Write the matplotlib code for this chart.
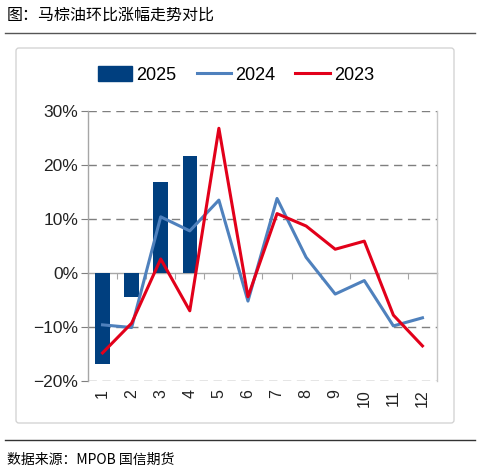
import matplotlib
matplotlib.use("Agg")
import matplotlib.pyplot as plt
from matplotlib.patches import FancyBboxPatch
from matplotlib.lines import Line2D
from matplotlib.patches import Patch
import numpy as np

months = ["1", "2", "3", "4", "5", "6", "7", "8", "9", "10", "11", "12"]
y2025 = [-16.9, -4.4, 16.8, 21.7]
y2024 = [-9.6, -10.1, 10.4, 7.8, 13.5, -5.2, 13.8, 2.9, -3.9, -1.4, -9.8, -8.3]
y2023 = [-14.8, -9.3, 2.6, -7.0, 26.8, -4.4, 11.0, 8.7, 4.4, 5.9, -7.8, -13.5]
yticks = [-20, -10, 0, 10, 20, 30]

C_BAR = "#003F7F"
C_2024 = "#4F81BD"
C_2023 = "#E2001A"
GRID = "#7F7F7F"

plt.rcParams['font.family'] = ['Liberation Sans', 'Noto Sans CJK SC', 'DejaVu Sans']

fig = plt.figure(figsize=(4.81, 4.73), dpi=100)

# outer frame
frame = FancyBboxPatch((16/481, 1-423/473), (454-16)/481, (423-48)/473,
                       boxstyle="round,pad=0,rounding_size=0.006",
                       transform=fig.transFigure, facecolor="none",
                       edgecolor="#D0D0D0", linewidth=0.9, zorder=0.1)
fig.add_artist(frame)

# title & rules
fig.text(7/481, 1-15/473, "图：马棕油环比涨幅走势对比", fontsize=11.5,
         family=['Noto Sans CJK SC'], va="center", ha="left")
fig.add_artist(Line2D([5/481, 475/481], [1-33/473, 1-33/473],
                      transform=fig.transFigure, color="#555555", lw=1.0))
fig.add_artist(Line2D([5/481, 475/481], [1-440/473, 1-440/473],
                      transform=fig.transFigure, color="#333333", lw=1.0))
fig.text(7/481, 1-460/473, "数据来源：MPOB 国信期货", fontsize=10,
         family=['Noto Sans CJK SC'], va="center", ha="left")

ax = fig.add_axes([88/481, 1-381/473, (437-88)/481, (381-111)/473])
ax.set_zorder(5)
ax.patch.set_alpha(0)
x = np.arange(1, len(months)+1)

for v in yticks:
    if v != 0:
        ax.axhline(v, color=GRID, lw=1.0, ls=(0, (6, 4)), zorder=0.5)

ax.bar(x[:len(y2025)], y2025, width=0.5, color=C_BAR, zorder=2, label="2025")
ax.plot(x, y2024, color=C_2024, lw=2.2, zorder=3, label="2024")
ax.plot(x, y2023, color=C_2023, lw=2.2, zorder=4, label="2023")

ax.set_xlim(0.5, 12.5)
ax.set_ylim(-20, 30)
ax.set_yticks(yticks)
ax.set_yticklabels([("−" if v < 0 else "") + f"{abs(v)}%" for v in yticks],
                   fontsize=12.5, color="#222222")
ax.set_xticks(x)
ax.set_xticklabels(months, rotation=90, fontsize=11.5, color="#222222")
ax.tick_params(axis="x", length=0, pad=6)
ax.tick_params(axis="y", length=5, color=GRID, pad=2)

for s in ["top", "bottom"]:
    ax.spines[s].set_visible(False)
ax.spines["left"].set_color("#A6A6A6")
ax.spines["right"].set_color("#C8C8C8")
ax.spines["left"].set_linewidth(1.0)
ax.spines["right"].set_linewidth(1.0)

# zero category axis with boundary tick marks
zero_frac = (0 - (-20)) / 50
sec = ax.secondary_xaxis(zero_frac)
sec.set_xticks(np.arange(0.5, 13, 1.0))
sec.set_xticklabels([])
sec.tick_params(axis="x", direction="out", length=4, color="#A6A6A6")
sec.spines["bottom"].set_color("#A6A6A6")
sec.spines["bottom"].set_linewidth(1.0)

handles = [Patch(facecolor=C_BAR, edgecolor=C_BAR),
           Line2D([], [], color=C_2024, lw=2.2),
           Line2D([], [], color=C_2023, lw=2.2)]
fig.legend(handles, ["2025", "2024", "2023"], loc="center",
           bbox_to_anchor=(236/481, 1-75/473), ncol=3, frameon=False,
           fontsize=13, handlelength=1.9, handletextpad=0.25,
           columnspacing=1.1, handleheight=0.9)

fig.savefig("out.png", dpi=100)
